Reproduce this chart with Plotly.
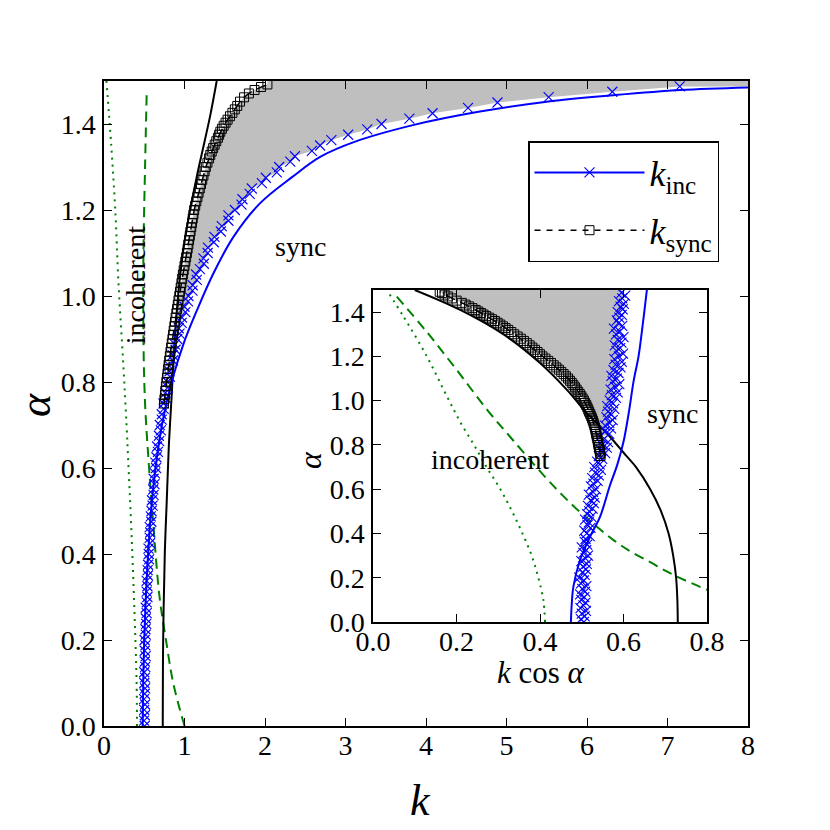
import numpy as np
import plotly.graph_objects as go

# ---- data ----
# main panel axes limits
K_MAX = 8.0
ALPHA_MAX = 1.5

# k_inc markers: alpha grid and k*cos(alpha) (main k follows)
inc_alpha = [
    0.0000, 0.0125, 0.0250, 0.0375, 0.0500, 0.0625, 0.0750, 0.0875, 0.1000, 0.1125,
    0.1250, 0.1375, 0.1500, 0.1625, 0.1750, 0.1875, 0.2000, 0.2125, 0.2250, 0.2375,
    0.2500, 0.2625, 0.2750, 0.2875, 0.3000, 0.3125, 0.3250, 0.3375, 0.3500, 0.3625,
    0.3750, 0.3875, 0.4000, 0.4125, 0.4250, 0.4375, 0.4500, 0.4625, 0.4750, 0.4875,
    0.5000, 0.5125, 0.5250, 0.5375, 0.5500, 0.5625, 0.5750, 0.5875, 0.6000, 0.6125,
    0.6250, 0.6375, 0.6500, 0.6625, 0.6750, 0.6875, 0.7000, 0.7125, 0.7250, 0.7375,
    0.7500, 0.7625, 0.7750, 0.7875, 0.8000, 0.8125, 0.8250, 0.8375, 0.8500, 0.8625,
    0.8750, 0.8875, 0.9000, 0.9125, 0.9250, 0.9375, 0.9500, 0.9625, 0.9750, 0.9875,
    1.0000, 1.0125, 1.0250, 1.0375, 1.0500, 1.0625, 1.0750, 1.0875, 1.1000, 1.1125,
    1.1250, 1.1375, 1.1500, 1.1625, 1.1750, 1.1875, 1.2000, 1.2125, 1.2250, 1.2375,
    1.2500, 1.2625, 1.2750, 1.2875, 1.3000, 1.3125, 1.3250, 1.3375, 1.3500, 1.3625,
    1.3750, 1.3875, 1.4000, 1.4125, 1.4250, 1.4375, 1.4500, 1.4625, 1.4750, 1.4875,
]
inc_kcos = [
    0.505, 0.498, 0.507, 0.500, 0.510, 0.497, 0.504, 0.509, 0.499, 0.506,
    0.496, 0.508, 0.501, 0.511, 0.498, 0.505, 0.494, 0.507, 0.502, 0.510,
    0.503, 0.512, 0.499, 0.509, 0.515, 0.504, 0.511, 0.500, 0.513, 0.507,
    0.509, 0.519, 0.512, 0.506, 0.521, 0.514, 0.517, 0.508, 0.523, 0.513,
    0.518, 0.526, 0.515, 0.529, 0.521, 0.531, 0.517, 0.527, 0.534, 0.522,
    0.528, 0.538, 0.525, 0.541, 0.532, 0.546, 0.530, 0.543, 0.537, 0.549,
    0.541, 0.556, 0.546, 0.560, 0.549, 0.563, 0.552, 0.544, 0.566, 0.555,
    0.570, 0.556, 0.566, 0.574, 0.559, 0.571, 0.563, 0.578, 0.561, 0.575,
    0.567, 0.582, 0.572, 0.586, 0.569, 0.580, 0.590, 0.574, 0.584, 0.571,
    0.588, 0.576, 0.593, 0.581, 0.596, 0.578, 0.589, 0.599, 0.583, 0.592,
    0.579, 0.595, 0.586, 0.600, 0.582, 0.591, 0.577, 0.597, 0.588, 0.584,
    0.590, 0.596, 0.586, 0.598, 0.593, 0.601, 0.589, 0.597, 0.604, 0.595,
]

# k_sync squares (main panel k, alpha)
sync_alpha = [
    0.75, 0.76, 0.77, 0.78, 0.79, 0.80, 0.81, 0.82, 0.83, 0.84,
    0.85, 0.86, 0.87, 0.88, 0.89, 0.90, 0.91, 0.92, 0.93, 0.94,
    0.95, 0.96, 0.97, 0.98, 0.99, 1.00, 1.01, 1.02, 1.03, 1.04,
    1.05, 1.06, 1.07, 1.08, 1.09, 1.10, 1.11, 1.12, 1.13, 1.14,
    1.15, 1.16, 1.17, 1.18, 1.19, 1.20, 1.21, 1.22, 1.23, 1.24,
    1.25, 1.26, 1.27, 1.28, 1.29, 1.30, 1.31, 1.32, 1.328, 1.336,
    1.344, 1.352, 1.36, 1.368, 1.375, 1.382, 1.389, 1.396, 1.403, 1.41,
    1.418, 1.426, 1.434, 1.442, 1.452, 1.462, 1.471, 1.479, 1.486, 1.492,
]
sync_k = [
    0.745, 0.751, 0.757, 0.763, 0.769, 0.775, 0.782, 0.789, 0.796, 0.803,
    0.810, 0.818, 0.826, 0.834, 0.842, 0.850, 0.858, 0.866, 0.874, 0.882,
    0.890, 0.899, 0.908, 0.917, 0.926, 0.935, 0.944, 0.953, 0.962, 0.971,
    0.980, 0.990, 1.000, 1.010, 1.020, 1.030, 1.039, 1.048, 1.057, 1.066,
    1.075, 1.084, 1.093, 1.102, 1.111, 1.120, 1.133, 1.147, 1.161, 1.175,
    1.190, 1.205, 1.220, 1.235, 1.250, 1.265, 1.285, 1.305, 1.320, 1.338,
    1.356, 1.375, 1.395, 1.415, 1.430, 1.445, 1.465, 1.487, 1.510, 1.535,
    1.565, 1.595, 1.625, 1.655, 1.690, 1.740, 1.800, 1.870, 1.950, 2.030,
]

# right end of the shaded region in the main panel
fill_end_k = 8.0
fill_end_alpha = 1.487

# main panel curves (k, alpha)
dot_k = [0.41, 0.405, 0.39, 0.372, 0.352, 0.33, 0.305, 0.28, 0.24, 0.18, 0.14, 0.09, 0.03]
dot_alpha = [0.0, 0.1, 0.2, 0.3, 0.4, 0.5, 0.6, 0.7, 0.84, 1.03, 1.2, 1.35, 1.5]

dash_k = [1.0, 0.86, 0.77, 0.69, 0.62, 0.56, 0.51, 0.49, 0.49, 0.51, 0.53]
dash_alpha = [0.0, 0.1, 0.2, 0.3, 0.45, 0.6, 0.75, 0.9, 1.1, 1.3, 1.47]

black_k = [0.73, 0.735, 0.755, 0.78, 0.805, 0.84, 0.88, 0.93, 1.0, 1.08, 1.155, 1.25, 1.32, 1.40]
black_alpha = [0.0, 0.2, 0.4, 0.526, 0.65, 0.766, 0.9, 1.02, 1.126, 1.21, 1.28, 1.36, 1.42, 1.5]

blue_k = [0.48, 0.487, 0.50, 0.52, 0.548, 0.585, 0.64, 0.72, 0.84, 0.99, 1.155, 1.36,
          1.61, 1.94, 2.34, 2.69, 3.12, 3.85, 4.67, 5.5, 6.33, 7.16, 8.0]
blue_alpha = [0.0, 0.1, 0.2, 0.3, 0.4, 0.5, 0.6, 0.7, 0.8, 0.89, 0.967, 1.053,
              1.138, 1.216, 1.277, 1.324, 1.359, 1.398, 1.429, 1.452, 1.467, 1.479, 1.485]

# inset curves (k cos alpha, alpha)
in_dot_x = [0.412, 0.408, 0.396, 0.380, 0.358, 0.333, 0.305, 0.272, 0.242, 0.210,
            0.177, 0.129, 0.073, 0.033]
in_dot_alpha = [0.0, 0.1, 0.2, 0.3, 0.4, 0.5, 0.6, 0.7, 0.8, 0.9, 1.02, 1.2, 1.38, 1.5]

in_dash_x = [0.057, 0.129, 0.2, 0.273, 0.336, 0.41, 0.45, 0.488, 0.53, 0.576, 0.62,
             0.664, 0.70, 0.728, 0.76, 0.792, 0.85]
in_dash_alpha = [1.47, 1.31, 1.14, 0.96, 0.82, 0.66, 0.58, 0.51, 0.44, 0.37, 0.315,
                 0.27, 0.232, 0.205, 0.178, 0.152, 0.11]

in_black_x = [0.73, 0.729, 0.726, 0.719, 0.708, 0.69, 0.664, 0.63, 0.608, 0.56, 0.512,
              0.464, 0.40, 0.312, 0.209, 0.10]
in_black_alpha = [0.0, 0.1, 0.2, 0.3, 0.4, 0.5, 0.6, 0.7, 0.748, 0.853, 0.944,
                  1.05, 1.17, 1.30, 1.41, 1.5]

in_blue_x = [0.474, 0.476, 0.48, 0.496, 0.52, 0.544, 0.568, 0.585, 0.60, 0.613, 0.624,
             0.636, 0.644, 0.651, 0.656]
in_blue_alpha = [0.0, 0.08, 0.16, 0.28, 0.386, 0.476, 0.62, 0.71, 0.814, 0.95, 1.086,
                 1.2, 1.312, 1.42, 1.5]

# ---- derived coordinates ----
inc_alpha_arr = np.array(inc_alpha)
inc_kcos_arr = np.array(inc_kcos)
inc_k = inc_kcos_arr / np.cos(inc_alpha_arr)
sync_kcos = np.array(sync_k) * np.cos(np.array(sync_alpha))

upper = inc_alpha_arr >= sync_alpha[0]

FONT = "Liberation Serif"
BLUE = "#0000ff"
GREEN = "#008000"
GRAY = "#bfbfbf"
W = 830
PAGE_OFF = 8  # the html body margin shifts the plot by this many px


def px_x(px):
    return (px - PAGE_OFF) / W


def px_y(py):
    return 1 - (py - PAGE_OFF) / W


fig = go.Figure()

# shaded region, main panel
fx = list(sync_k) + [sync_k[-1], K_MAX, fill_end_k] + list(inc_k[upper][::-1])
fy = list(sync_alpha) + [ALPHA_MAX, ALPHA_MAX, fill_end_alpha] + list(inc_alpha_arr[upper][::-1])
fig.add_trace(go.Scatter(x=fx, y=fy, fill="toself", fillcolor=GRAY, mode="lines",
                         line=dict(width=0), hoverinfo="skip", showlegend=False))


def add_curves(xaxis, yaxis, curves):
    for x, y, color, dash in curves:
        fig.add_trace(go.Scatter(x=x, y=y, mode="lines", xaxis=xaxis, yaxis=yaxis,
                                 line=dict(color=color, width=2, dash=dash, shape="spline"),
                                 showlegend=False))


DOT = "2px,5px"
DASH = "10px,6px"

add_curves("x", "y", [
    (dot_k, dot_alpha, GREEN, DOT),
    (dash_k, dash_alpha, GREEN, DASH),
    (black_k, black_alpha, "black", "solid"),
    (blue_k, blue_alpha, BLUE, "solid"),
])

X_MARK = dict(symbol="x-thin", size=10, line=dict(color=BLUE, width=1.1))
SQ_MARK = dict(symbol="square-open", size=9, color="black", line=dict(width=1))

fig.add_trace(go.Scatter(x=inc_k, y=inc_alpha, mode="markers", showlegend=False, marker=X_MARK))
fig.add_trace(go.Scatter(x=sync_k, y=sync_alpha, mode="lines+markers", showlegend=False,
                         line=dict(color="black", width=1.5, dash=DASH), marker=SQ_MARK))

# inset: shaded region, curves, markers
ix = list(sync_kcos) + [sync_kcos[-1], inc_kcos[-1]] + list(inc_kcos_arr[upper][::-1])
iy = list(sync_alpha) + [ALPHA_MAX, ALPHA_MAX] + list(inc_alpha_arr[upper][::-1])
fig.add_trace(go.Scatter(x=ix, y=iy, fill="toself", fillcolor=GRAY, mode="lines",
                         xaxis="x2", yaxis="y2", line=dict(width=0),
                         hoverinfo="skip", showlegend=False))

add_curves("x2", "y2", [
    (in_dot_x, in_dot_alpha, GREEN, DOT),
    (in_dash_x, in_dash_alpha, GREEN, DASH),
    (in_black_x, in_black_alpha, "black", "solid"),
    (in_blue_x, in_blue_alpha, BLUE, "solid"),
])

fig.add_trace(go.Scatter(x=inc_kcos, y=inc_alpha, mode="markers", xaxis="x2", yaxis="y2",
                         showlegend=False, marker=X_MARK))
fig.add_trace(go.Scatter(x=sync_kcos, y=sync_alpha, mode="lines+markers", xaxis="x2", yaxis="y2",
                         showlegend=False,
                         line=dict(color="black", width=1.5, dash=DASH), marker=SQ_MARK))

# legend entries
fig.add_trace(go.Scatter(x=[None], y=[None], mode="lines+markers", name="<i>k</i><sub>inc</sub>",
                         legendgroup="inc", line=dict(color=BLUE, width=2), marker=X_MARK))
fig.add_trace(go.Scatter(x=[None], y=[None], mode="lines+markers", name="<i>k</i><sub>sync</sub>",
                         legendgroup="sync", line=dict(color="black", width=1.5, dash="6px,6px"),
                         marker=SQ_MARK))

axis_common = dict(showline=True, linecolor="black", linewidth=1.5, mirror="allticks",
                   ticks="inside", ticklen=8, tickwidth=1.2, tickcolor="black",
                   showgrid=False, zeroline=False, automargin=False,
                   tickfont=dict(family=FONT, size=28, color="black"))
x_common = dict(ticklabelstandoff=-6, **axis_common)
y_common = dict(ticklabelstandoff=1, **axis_common)

fig.update_layout(
    template="none",
    width=W, height=W,
    margin=dict(l=0, r=0, t=0, b=0),
    paper_bgcolor="white", plot_bgcolor="white",
    font=dict(family=FONT, color="black"),
    xaxis=dict(domain=[px_x(104), px_x(748)], range=[0, K_MAX], dtick=1, anchor="y", **x_common),
    yaxis=dict(domain=[px_y(726), px_y(81)], range=[0, ALPHA_MAX], dtick=0.2, tickformat=".1f",
               anchor="x", **y_common),
    xaxis2=dict(domain=[px_x(373), px_x(707)], range=[0, 0.8], dtick=0.2, tickformat=".1f",
                anchor="y2", **x_common),
    yaxis2=dict(domain=[px_y(622), px_y(290)], range=[0, ALPHA_MAX], dtick=0.2, tickformat=".1f",
                anchor="x2", **y_common),
    legend=dict(x=px_x(528), y=px_y(141), xanchor="left", yanchor="top",
                bgcolor="white", bordercolor="black", borderwidth=1.5,
                font=dict(family=FONT, size=36), itemwidth=110, tracegroupgap=8),
    showlegend=True,
)

annotations = [
    dict(text="<i>k</i>", px=(420, 800), size=44),
    dict(text="<i>α</i>", px=(35, 405), size=44, textangle=-90),
    dict(text="<i>k</i> cos <i>α</i>", px=(541, 672), size=31),
    dict(text="<i>α</i>", px=(310, 460), size=32, textangle=-90),
]
for a in annotations:
    fig.add_annotation(text=a["text"], x=px_x(a["px"][0]), y=px_y(a["px"][1]),
                       xref="paper", yref="paper", xanchor="center", yanchor="middle",
                       showarrow=False, textangle=a.get("textangle", 0),
                       font=dict(family=FONT, size=a["size"], color="black"))

labels = [
    dict(text="sync", x=2.44, y=1.114, xref="x", yref="y"),
    dict(text="incoherent", x=0.39, y=1.026, xref="x", yref="y", textangle=-90),
    dict(text="incoherent", x=0.28, y=0.733, xref="x2", yref="y2"),
    dict(text="sync", x=0.717, y=0.94, xref="x2", yref="y2"),
]
for a in labels:
    fig.add_annotation(text=a["text"], x=a["x"], y=a["y"], xref=a["xref"], yref=a["yref"],
                       xanchor="center", yanchor="middle",
                       showarrow=False, textangle=a.get("textangle", 0),
                       font=dict(family=FONT, size=28, color="black"))

fig.write_html("out.html")
